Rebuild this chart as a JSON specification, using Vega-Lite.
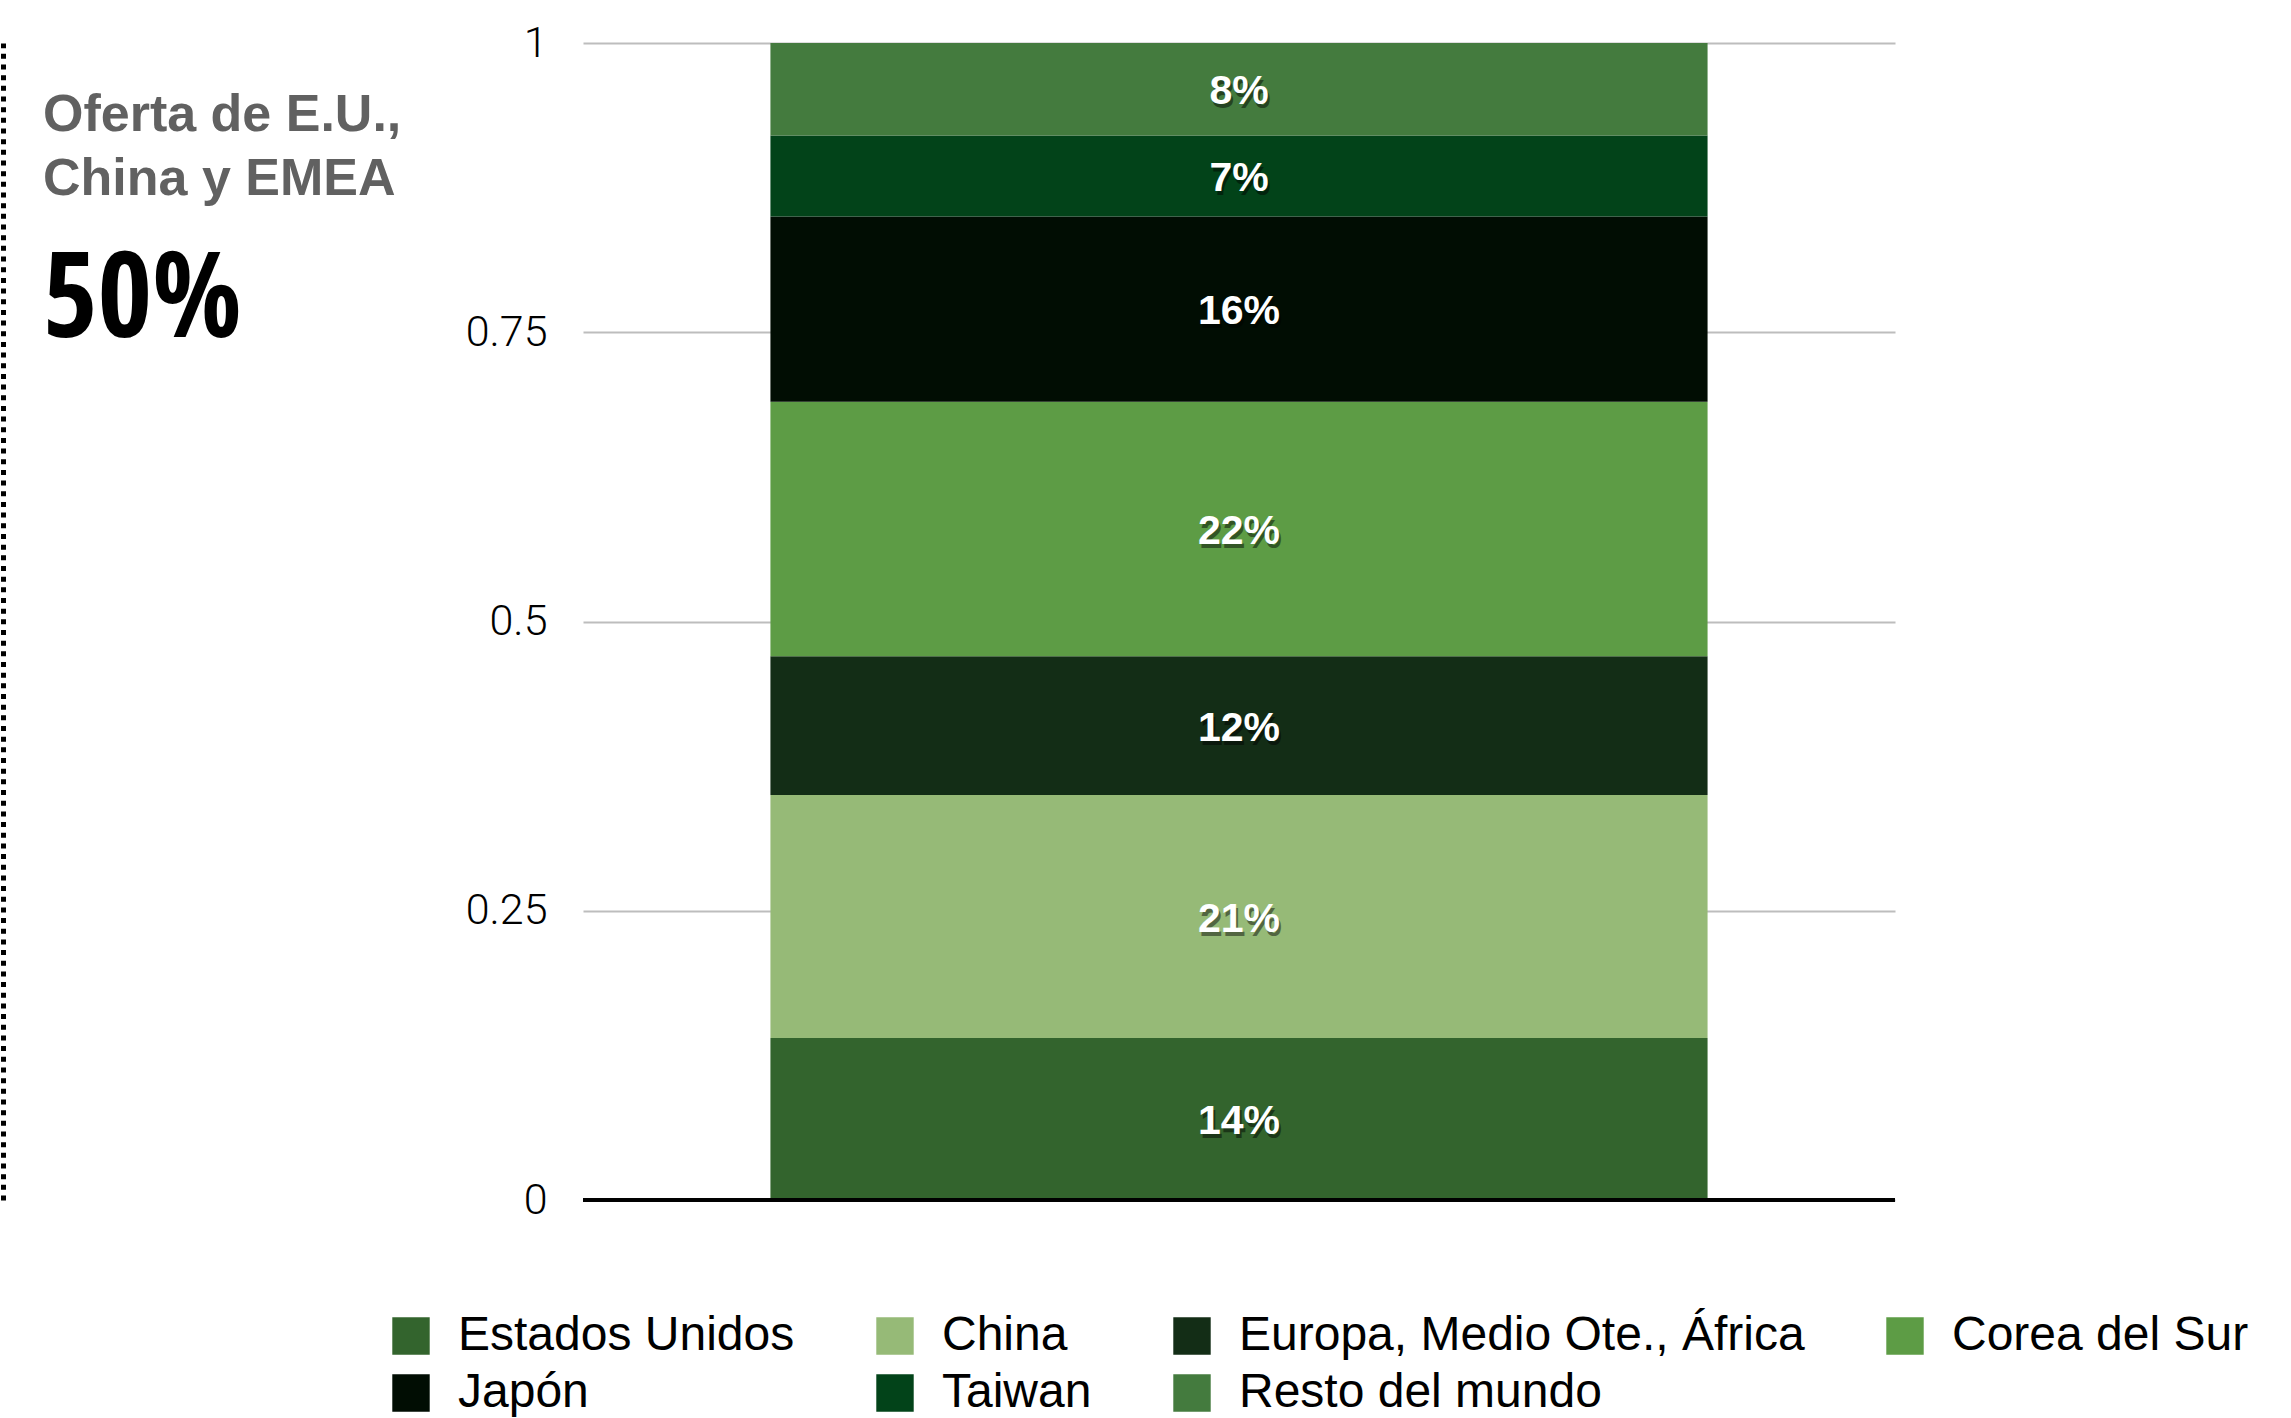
{
  "$schema": "https://vega.github.io/schema/vega-lite/v6.json",
  "width": 1312,
  "height": 1157,
  "autosize": {"type": "none"},
  "padding": {"left": 583, "top": 43, "right": 396, "bottom": 218},
  "background": "white",
  "title": {
    "text": ["Oferta de E.U.,", "China y EMEA"],
    "subtitle": "50%",
    "anchor": "start",
    "frame": "group",
    "orient": "top",
    "font": "Liberation Sans",
    "fontWeight": "bold",
    "fontSize": 52,
    "color": "#616161",
    "lineHeight": 64,
    "subtitleFont": "Noto Sans ExtraCondensed, Open Sans Condensed, Noto Sans Condensed, DejaVu Sans Condensed",
    "subtitleFontWeight": "bold",
    "subtitleFontSize": 118,
    "subtitleColor": "#000000",
    "subtitlePadding": 38,
    "dx": -540,
    "dy": 344
  },
  "data": {
    "values": [
      {"region": "Estados Unidos", "valor": 0.14, "orden": 1},
      {"region": "China", "valor": 0.21, "orden": 2},
      {"region": "Europa, Medio Ote., África", "valor": 0.12, "orden": 3},
      {"region": "Corea del Sur", "valor": 0.22, "orden": 4},
      {"region": "Japón", "valor": 0.16, "orden": 5},
      {"region": "Taiwan", "valor": 0.07, "orden": 6},
      {"region": "Resto del mundo", "valor": 0.08, "orden": 7}
    ]
  },
  "encoding": {
    "x": {"datum": "Total", "type": "nominal", "axis": null, "scale": {"paddingInner": 0, "paddingOuter": 0.2}}
  },
  "layer": [
    {
      "mark": {"type": "bar"},
      "encoding": {
        "y": {
          "field": "valor", "type": "quantitative", "stack": "zero",
          "scale": {"domain": [0, 1], "nice": false},
          "axis": {
            "values": [0, 0.25, 0.5, 0.75, 1],
            "format": ".2~f",
            "title": null,
            "domain": false,
            "ticks": false,
            "grid": true,
            "gridColor": "#BDBDBD",
            "gridWidth": 2,
            "labelFont": "Roboto",
            "labelFontWeight": 300,
            "labelFontSize": 43,
            "labelColor": "#000000",
            "labelPadding": 36
          }
        },
        "color": {
          "field": "region", "type": "nominal",
          "scale": {
            "domain": ["Estados Unidos", "China", "Europa, Medio Ote., África", "Corea del Sur", "Japón", "Taiwan", "Resto del mundo"],
            "range": ["#33642D", "#96BA77", "#132D16", "#5D9C45", "#010D03", "#024319", "#447B3E"]
          },
          "legend": {
            "orient": "none",
            "legendX": -196,
            "legendY": 1269,
            "columns": 4,
            "direction": "horizontal",
            "gridAlign": "each",
            "title": null,
            "symbolType": "square",
            "symbolSize": 1400,
            "symbolStrokeWidth": 0,
            "labelFont": "Liberation Sans",
            "labelFontSize": 48,
            "labelColor": "#000000",
            "labelOffset": 23,
            "labelLimit": 1000,
            "columnPadding": 76,
            "rowPadding": 9,
            "padding": 0
          }
        },
        "order": {"field": "orden", "type": "quantitative"}
      }
    },
    {
      "mark": {"type": "text", "font": "Liberation Sans", "fontWeight": "bold", "fontSize": 41, "color": "#000000", "opacity": 0.45, "dx": 2, "dy": 7, "baseline": "middle", "align": "center"},
      "encoding": {
        "y": {"field": "valor", "type": "quantitative", "stack": "zero", "bandPosition": 0.5, "axis": null},
        "detail": {"field": "region"},
        "order": {"field": "orden", "type": "quantitative"},
        "text": {"field": "valor", "type": "quantitative", "format": ".0%"}
      }
    },
    {
      "mark": {"type": "text", "font": "Liberation Sans", "fontWeight": "bold", "fontSize": 41, "color": "#FFFFFF", "dy": 3, "baseline": "middle", "align": "center"},
      "encoding": {
        "y": {"field": "valor", "type": "quantitative", "stack": "zero", "bandPosition": 0.5, "axis": null},
        "detail": {"field": "region"},
        "order": {"field": "orden", "type": "quantitative"},
        "text": {"field": "valor", "type": "quantitative", "format": ".0%"}
      }
    },
    {
      "mark": {"type": "rule", "color": "#000000", "strokeWidth": 3},
      "encoding": {
        "x": {"value": 0},
        "x2": {"value": 1312},
        "y": {
          "datum": 0, "type": "quantitative",
          "axis": {
            "orient": "left",
            "offset": 580,
            "domain": true,
            "domainColor": "#000000",
            "domainWidth": 5,
            "domainDash": [5, 5.67],
            "domainCap": "butt",
            "labels": false,
            "ticks": false,
            "grid": false,
            "title": null
          }
        }
      }
    }
  ],
  "resolve": {"axis": {"y": "independent"}},
  "config": {
    "view": {"stroke": null},
    "font": "Liberation Sans"
  }
}
